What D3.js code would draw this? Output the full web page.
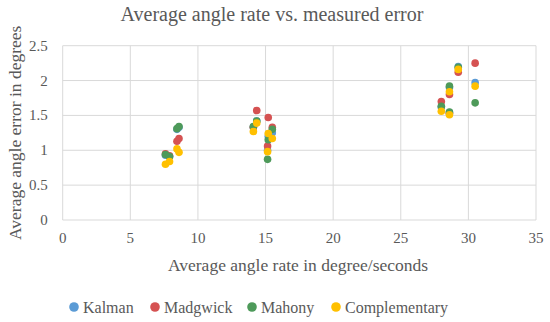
<!DOCTYPE html>
<html><head><meta charset="utf-8">
<script src="https://cdn.jsdelivr.net/npm/d3@7"></script>
<style>body{margin:0;background:#fff}svg{display:block}</style>
</head><body>
<svg id="c" width="550" height="322"></svg>
<script>
const rates = [7.6, 7.9, 8.45, 8.6, 14.1, 14.35, 15.2, 15.15, 15.5, 28.0, 28.6, 28.6, 29.25, 30.5];
const kalman = [0.93, 0.91, 1.30, 1.33, 1.33, 1.42, 1.20, 1.00, 1.25, 1.62, 1.90, 1.54, 2.20, 1.97];
const madgwick = [0.95, 0.92, 1.13, 1.17, 1.33, 1.57, 1.47, 1.06, 1.33, 1.70, 1.80, 1.53, 2.12, 2.25];
const mahony = [0.94, 0.91, 1.31, 1.34, 1.34, 1.42, 1.15, 0.87, 1.30, 1.63, 1.92, 1.55, 2.19, 1.68];
const complementary = [0.80, 0.84, 1.02, 0.97, 1.27, 1.39, 1.24, 0.98, 1.17, 1.56, 1.84, 1.51, 2.16, 1.92];
const seriesNames = ["Kalman", "Madgwick", "Mahony", "Complementary"];
const seriesColors = ["#5b9bd5", "#d55252", "#4e9a5a", "#ffc000"];
const xTicks = [0, 5, 10, 15, 20, 25, 30, 35];
const yTicks = [0, 0.5, 1, 1.5, 2, 2.5];

const FONT = '"Liberation Serif", "Times New Roman", serif';
const TXT = "#595959";
const series = [kalman, madgwick, mahony, complementary];
const svg = d3.select("#c").attr("font-family", FONT);
const m = {l: 62.7, r: 536, t: 45.7, b: 220};
const x = d3.scaleLinear().domain([0, 35]).range([m.l, m.r]);
const y = d3.scaleLinear().domain([0, 2.5]).range([m.b, m.t]);

function label(tx, ty, size, anchor, str) {
  return svg.append("text")
    .attr("x", tx).attr("y", ty)
    .attr("text-anchor", anchor)
    .attr("font-family", FONT)
    .attr("font-size", size)
    .attr("fill", TXT)
    .text(str);
}

// gridlines
xTicks.forEach(t => svg.append("line")
  .attr("x1", x(t)).attr("x2", x(t)).attr("y1", m.t).attr("y2", m.b)
  .attr("stroke", "#d9d9d9").attr("stroke-width", 1));
yTicks.forEach(t => svg.append("line")
  .attr("x1", m.l).attr("x2", m.r).attr("y1", y(t)).attr("y2", y(t))
  .attr("stroke", "#d9d9d9").attr("stroke-width", 1));

// tick labels
const fmt = d3.format("");
xTicks.forEach(t => label(x(t), m.b + 23, 15, "middle", fmt(t)));
yTicks.forEach(t => label(m.l - 15, y(t) + 5, 15, "end", fmt(t)));

// points
series.forEach((s, i) => {
  s.forEach((v, j) => svg.append("circle")
    .attr("cx", x(rates[j])).attr("cy", y(v)).attr("r", 3.8)
    .attr("fill", seriesColors[i]));
});

// titles
label(272, 21, 20, "middle", "Average angle rate vs. measured error");
label(298, 271, 17.5, "middle", "Average angle rate in degree/seconds");
label(0, 0, 17.5, "middle", "Average angle error in degrees")
  .attr("transform", `translate(21,${(m.t + m.b) / 2}) rotate(-90)`);

// legend
const legX = [74, 155, 252, 336];
seriesNames.forEach((n, i) => {
  svg.append("circle").attr("cx", legX[i]).attr("cy", 307).attr("r", 4.8).attr("fill", seriesColors[i]);
  label(legX[i] + 9, 312.5, 16, "start", n);
});
</script>
</body></html>
